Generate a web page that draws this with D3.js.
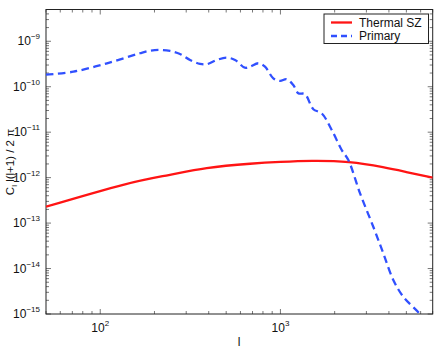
<!DOCTYPE html>
<html>
<head>
<meta charset="utf-8">
<script src="https://cdn.jsdelivr.net/npm/d3@7"></script>
<style>
	body { margin: 0; background: #fff; }
	svg { display: block; font-family: 'Liberation Sans', Arial, Helvetica, sans-serif; }
</style>
</head>
<body>
<div id="chart"></div>
<script>
// multipole values
const szL = [50, 134, 240, 390, 678, 1000, 1500, 2400, 3700, 5000, 7000]
const szValues = [2.29e-13, 6.95e-13, 1.14e-12, 1.62e-12, 2.02e-12, 2.22e-12, 2.34e-12, 2.19e-12,
	1.7e-12, 1.33e-12, 1.0e-12]

const primaryL = [50, 71, 109, 166, 189, 215, 244, 277, 315, 358, 390, 443, 504, 560, 635, 678, 754, 821, 913, 995,
	1083, 1179, 1256, 1368, 1522, 1694, 1926, 2188, 2382, 2767, 3276, 3723, 4230, 4808, 5947, 7000]
const primaryValues = [1.84e-10, 2.14e-10, 3.28e-10, 5.45e-10, 6.2e-10, 6.44e-10, 6.12e-10, 5.26e-10, 3.88e-10,
	3.17e-10, 3.12e-10, 3.88e-10, 4.36e-10, 3.88e-10, 2.62e-10, 2.76e-10, 3.28e-10, 2.76e-10, 1.53e-10, 1.34e-10,
	1.46e-10, 1.09e-10, 7.2e-11, 6.9e-11, 3.2e-11, 2.6e-11, 1.12e-11, 4.06e-12, 2.44e-12, 4.5e-13, 8.3e-14,
	2.17e-14, 5.6e-15, 2.4e-15, 1.0e-15, 4.5e-16]

const xDecades = [2, 3]
const yDecades = [-15, -14, -13, -12, -11, -10, -9]
const seriesNames = ['Thermal SZ', 'Primary']

const width = 436, height = 348
const margin = {top: 9.5, right: 3.3, bottom: 34, left: 46}
const innerW = width - margin.left - margin.right
const innerH = height - margin.top - margin.bottom

const svg = d3.select('#chart').append('svg').attr('width', width).attr('height', height)
const g = svg.append('g').attr('transform', 'translate(' + margin.left + ',' + margin.top + ')')

const x = d3.scaleLog().domain([50, 7000]).range([0, innerW])
const y = d3.scaleLog().domain([1e-15, 5e-9]).range([innerH, 0])

g.append('clipPath').attr('id', 'plotClip')
	.append('rect').attr('width', innerW).attr('height', innerH)

// minor + major ticks, pointing inward on all four sides
const xMinor = [], yMinor = []
for (let e = 1; e <= 3; e++) for (let m = 1; m <= 9; m++) {
	const v = m * Math.pow(10, e)
	if (v >= 50 && v <= 7000) xMinor.push(v)
}
for (let e = -15; e <= -9; e++) for (let m = 1; m <= 9; m++) {
	const v = m * Math.pow(10, e)
	if (v >= 1e-15 && v <= 5e-9) yMinor.push(v)
}
const tickColor = '#555'
const tickLen = v => (Math.abs(Math.log10(v) - Math.round(Math.log10(v))) < 1e-9 ? 5 : 3)

const ticks = g.append('g').attr('stroke', tickColor).attr('stroke-width', 0.8)
xMinor.forEach(v => {
	const px = x(v), len = tickLen(v)
	ticks.append('line').attr('x1', px).attr('x2', px).attr('y1', innerH).attr('y2', innerH - len)
	ticks.append('line').attr('x1', px).attr('x2', px).attr('y1', 0).attr('y2', len)
})
yMinor.forEach(v => {
	const py = y(v), len = tickLen(v)
	ticks.append('line').attr('x1', 0).attr('x2', len).attr('y1', py).attr('y2', py)
	ticks.append('line').attr('x1', innerW).attr('x2', innerW - len).attr('y1', py).attr('y2', py)
})

// axes box
g.append('rect')
	.attr('width', innerW).attr('height', innerH)
	.attr('fill', 'none').attr('stroke', '#222').attr('stroke-width', 1)

// tick labels as 10^n
xDecades.forEach(e => {
	const t = g.append('text')
		.attr('x', x(Math.pow(10, e))).attr('y', innerH + 18)
		.attr('text-anchor', 'middle').attr('font-size', 12).attr('fill', '#111')
	t.append('tspan').text('10')
	t.append('tspan').attr('dy', -6).attr('font-size', 8).text(e)
})
yDecades.forEach(e => {
	const t = g.append('text')
		.attr('x', -6).attr('y', y(Math.pow(10, e)) + 4)
		.attr('text-anchor', 'end').attr('font-size', 12).attr('fill', '#111')
	t.append('tspan').text('10')
	t.append('tspan').attr('dy', -6).attr('font-size', 8).text('\u2212' + Math.abs(e))
})

// axis labels
svg.append('text')
	.attr('x', margin.left + x(100) + (x(1000) - x(100)) * 0.77).attr('y', 346)
	.attr('text-anchor', 'middle').attr('font-size', 12).attr('fill', '#111')
	.text('l')

const yl = svg.append('text')
	.attr('transform', 'translate(14,' + 162 + ') rotate(-90)')
	.attr('text-anchor', 'middle').attr('font-size', 11.5).attr('fill', '#111')
yl.append('tspan').text('C')
yl.append('tspan').attr('dy', 3).attr('font-size', 8).text('l')
yl.append('tspan').attr('dy', -3).text(' l(l+1) / 2 \u03c0')

// curves
const xy = d => [x(d[0]), y(d[1])]
const szLine = d3.line().x(d => xy(d)[0]).y(d => xy(d)[1]).curve(d3.curveNatural)
const primaryLine = d3.line().x(d => xy(d)[0]).y(d => xy(d)[1]).curve(d3.curveCatmullRom.alpha(0.5))

const plot = g.append('g').attr('clip-path', 'url(#plotClip)')
plot.append('path')
	.datum(szL.map((l, i) => [l, szValues[i]]))
	.attr('d', szLine)
	.attr('fill', 'none').attr('stroke', '#ff1414').attr('stroke-width', 2.3)
plot.append('path')
	.datum(primaryL.map((l, i) => [l, primaryValues[i]]))
	.attr('d', primaryLine)
	.attr('fill', 'none').attr('stroke', '#3050ff').attr('stroke-width', 2.3)
	.attr('stroke-dasharray', '7.5,4.5')

// legend
const legend = svg.append('g').attr('transform', 'translate(324,14)')
legend.append('rect')
	.attr('width', 104.5).attr('height', 29.5)
	.attr('fill', '#fff').attr('stroke', '#222').attr('stroke-width', 1)
const legendStyles = [
	{color: '#ff1414', dash: null},
	{color: '#3050ff', dash: '6,4'}
]
seriesNames.forEach((name, i) => {
	const row = legend.append('g').attr('transform', 'translate(0,' + (8.5 + i * 13.5) + ')')
	row.append('line')
		.attr('x1', 7).attr('x2', 28)
		.attr('stroke', legendStyles[i].color).attr('stroke-width', 2.3)
		.attr('stroke-dasharray', legendStyles[i].dash)
	row.append('text')
		.attr('x', 35).attr('y', 4.3)
		.attr('font-size', 12).attr('fill', '#111')
		.text(name)
})
</script>
</body>
</html>
